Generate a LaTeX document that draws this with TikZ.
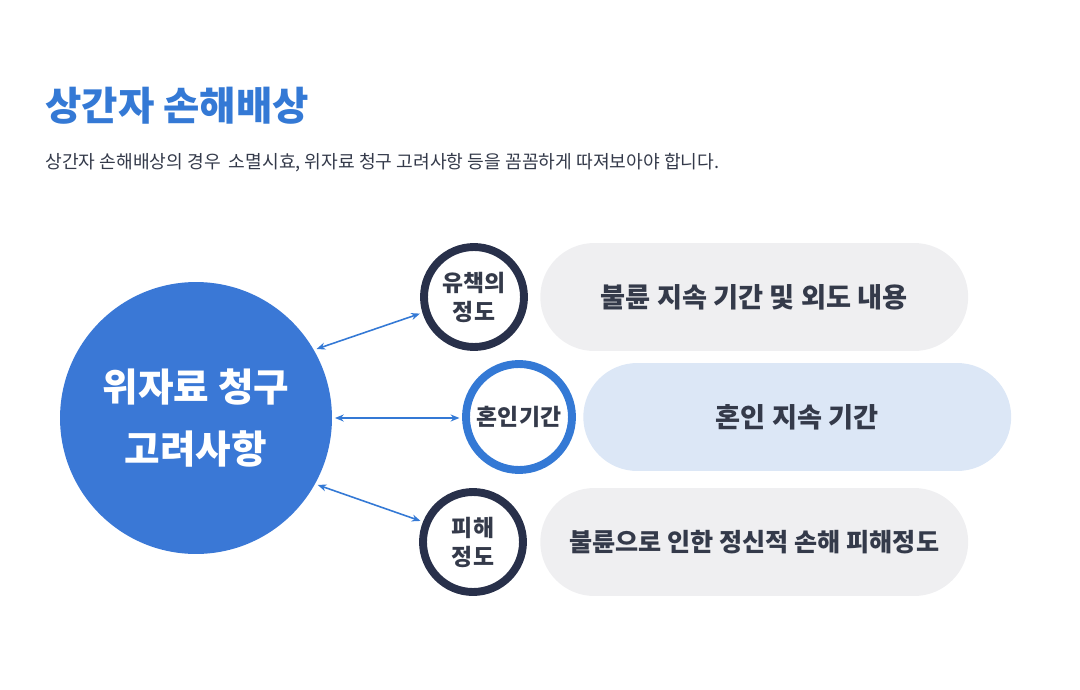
\documentclass[tikz,border=0pt]{standalone}
\usepackage{fontspec}
\setmainfont{Noto Sans CJK KR}
\usetikzlibrary{arrows.meta,positioning}
\definecolor{titleblue}{HTML}{3479D5}
\definecolor{bigblue}{HTML}{3A78D6}
\definecolor{navy}{HTML}{28304A}
\definecolor{inkgray}{HTML}{343A4A}
\definecolor{pillgray}{HTML}{EFEFF1}
\definecolor{pillblue}{HTML}{DCE7F6}

\begin{document}
\begin{tikzpicture}[x=0.02cm,y=-0.02cm,
    ring/.style={circle,draw=navy,line width=4.5pt,minimum size=2cm,inner sep=0pt,align=center,text=inkgray,font=\bfseries\fontsize{13}{16.5}\selectfont},
    pill/.style={rounded corners=1.08cm,minimum width=8.56cm,minimum height=2.16cm,fill=pillgray,text=inkgray,font=\bfseries\fontsize{15.5}{18}\selectfont},
    link/.style={<->,>={Stealth[length=5pt,width=4pt]},draw=titleblue,line width=0.9pt,shorten <=1.5pt,shorten >=1.5pt}]
    \useasboundingbox (0,0) rectangle (1080,690);
    % heading
    \node[anchor=west,inner sep=0pt,text=titleblue,font=\bfseries\fontsize{22.5}{26}\selectfont] (title) at (45,106) {상간자 손해배상};
    \node[anchor=west,inner sep=0pt,text=inkgray,font=\fontsize{10.35}{12}\selectfont] (lead) at (45,163) {상간자 손해배상의 경우~ 소멸시효, 위자료 청구 고려사항 등을 꼼꼼하게 따져보아야 합니다.};
    % main circle
    \node[circle,fill=bigblue,minimum size=5.44cm,inner sep=0pt,text=white,align=center,font=\bfseries\fontsize{22}{35}\selectfont] (claim) at (196,418) {위자료 청구\\고려사항};
    % factors
    \node[ring] (fault) at (474,297) {유책의\\정도};
    \node[ring,draw=titleblue,minimum size=2.12cm] (marriage) at (519,417) {혼인기간};
    \node[ring] (harm) at (473,542) {피해\\정도};
    \node[pill,right=0.24cm of fault] (faultnote) {불륜 지속 기간 및 외도 내용};
    \node[pill,fill=pillblue,right=0.14cm of marriage] (marriagenote) {혼인 지속 기간};
    \node[pill,right=0.26cm of harm,font=\bfseries\fontsize{14.3}{18}\selectfont] (harmnote) {불륜으로 인한 정신적 손해 피해정도};
    \draw[link] (claim.30) -- (fault.197);
    \draw[link] (claim.0) -- (claim.0 -| marriage.west);
    \draw[link] (claim.-29) -- (harm.158);
\end{tikzpicture}
\end{document}
